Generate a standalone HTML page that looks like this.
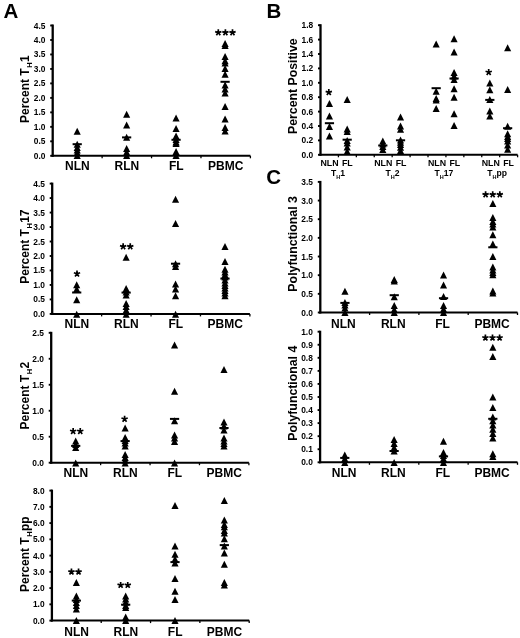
<!DOCTYPE html>
<html><head><meta charset="utf-8"><style>
html,body{margin:0;padding:0;background:#fff;}
svg{display:block;font-family:"Liberation Sans", sans-serif;will-change:transform;}
</style></head><body>
<svg width="520" height="638" viewBox="0 0 520 638">
<rect width="520" height="638" fill="#fff"/>
<text x="3.50" y="18.20" font-size="20.5" text-anchor="start" font-weight="bold" >A</text>
<text x="266.60" y="18.20" font-size="20.5" text-anchor="start" font-weight="bold" >B</text>
<text x="266.30" y="184.30" font-size="20.5" text-anchor="start" font-weight="bold" >C</text>
<line x1="52.70" y1="24.50" x2="52.70" y2="156.80" stroke="#000" stroke-width="2.3"/>
<line x1="51.70" y1="155.80" x2="250.40" y2="155.80" stroke="#000" stroke-width="2.0"/>
<line x1="50.20" y1="155.80" x2="52.70" y2="155.80" stroke="#000" stroke-width="1.9"/>
<text x="45.40" y="158.82" font-size="8.4" text-anchor="end" font-weight="bold" >0.0</text>
<line x1="50.20" y1="141.32" x2="52.70" y2="141.32" stroke="#000" stroke-width="1.9"/>
<text x="45.40" y="144.35" font-size="8.4" text-anchor="end" font-weight="bold" >0.5</text>
<line x1="50.20" y1="126.84" x2="52.70" y2="126.84" stroke="#000" stroke-width="1.9"/>
<text x="45.40" y="129.87" font-size="8.4" text-anchor="end" font-weight="bold" >1.0</text>
<line x1="50.20" y1="112.37" x2="52.70" y2="112.37" stroke="#000" stroke-width="1.9"/>
<text x="45.40" y="115.39" font-size="8.4" text-anchor="end" font-weight="bold" >1.5</text>
<line x1="50.20" y1="97.89" x2="52.70" y2="97.89" stroke="#000" stroke-width="1.9"/>
<text x="45.40" y="100.91" font-size="8.4" text-anchor="end" font-weight="bold" >2.0</text>
<line x1="50.20" y1="83.41" x2="52.70" y2="83.41" stroke="#000" stroke-width="1.9"/>
<text x="45.40" y="86.44" font-size="8.4" text-anchor="end" font-weight="bold" >2.5</text>
<line x1="50.20" y1="68.93" x2="52.70" y2="68.93" stroke="#000" stroke-width="1.9"/>
<text x="45.40" y="71.96" font-size="8.4" text-anchor="end" font-weight="bold" >3.0</text>
<line x1="50.20" y1="54.46" x2="52.70" y2="54.46" stroke="#000" stroke-width="1.9"/>
<text x="45.40" y="57.48" font-size="8.4" text-anchor="end" font-weight="bold" >3.5</text>
<line x1="50.20" y1="39.98" x2="52.70" y2="39.98" stroke="#000" stroke-width="1.9"/>
<text x="45.40" y="43.00" font-size="8.4" text-anchor="end" font-weight="bold" >4.0</text>
<line x1="50.20" y1="25.50" x2="52.70" y2="25.50" stroke="#000" stroke-width="1.9"/>
<text x="45.40" y="28.52" font-size="8.4" text-anchor="end" font-weight="bold" >4.5</text>
<line x1="102.12" y1="155.80" x2="102.12" y2="158.30" stroke="#000" stroke-width="1.3"/>
<line x1="151.55" y1="155.80" x2="151.55" y2="158.30" stroke="#000" stroke-width="1.3"/>
<line x1="200.97" y1="155.80" x2="200.97" y2="158.30" stroke="#000" stroke-width="1.3"/>
<line x1="250.40" y1="155.80" x2="250.40" y2="158.30" stroke="#000" stroke-width="1.3"/>
<text x="77.41" y="170.00" font-size="12" text-anchor="middle" font-weight="bold" >NLN</text>
<text x="126.84" y="170.00" font-size="12" text-anchor="middle" font-weight="bold" >RLN</text>
<text x="176.26" y="170.00" font-size="12" text-anchor="middle" font-weight="bold" >FL</text>
<text x="225.69" y="170.00" font-size="12" text-anchor="middle" font-weight="bold" >PBMC</text>
<text transform="translate(29.10,123.00) rotate(-90)" font-size="12" font-weight="bold">Percent T<tspan font-size="7.6" dx="0.5" dy="2.6">H</tspan><tspan dx="0.3" dy="-2.6">1</tspan></text>
<path d="M77.21 127.85L80.76 134.85L73.66 134.85Z"/>
<path d="M77.21 140.80L80.76 147.80L73.66 147.80Z"/>
<path d="M77.21 144.00L80.76 151.00L73.66 151.00Z"/>
<path d="M77.21 146.50L80.76 153.50L73.66 153.50Z"/>
<path d="M77.21 149.00L80.76 156.00L73.66 156.00Z"/>
<path d="M77.21 152.00L80.76 159.00L73.66 159.00Z"/>
<rect x="72.61" y="143.20" width="9.20" height="2.00"/>
<path d="M126.64 110.70L130.19 117.70L123.09 117.70Z"/>
<path d="M126.64 121.50L130.19 128.50L123.09 128.50Z"/>
<path d="M126.64 133.80L130.19 140.80L123.09 140.80Z"/>
<path d="M126.64 145.00L130.19 152.00L123.09 152.00Z"/>
<path d="M126.64 148.50L130.19 155.50L123.09 155.50Z"/>
<path d="M126.64 152.00L130.19 159.00L123.09 159.00Z"/>
<rect x="122.04" y="136.40" width="9.20" height="2.00"/>
<path d="M176.06 114.50L179.61 121.50L172.51 121.50Z"/>
<path d="M176.06 124.90L179.61 131.90L172.51 131.90Z"/>
<path d="M176.06 132.50L179.61 139.50L172.51 139.50Z"/>
<path d="M176.06 136.00L179.61 143.00L172.51 143.00Z"/>
<path d="M176.06 138.50L179.61 145.50L172.51 145.50Z"/>
<path d="M176.06 140.00L179.61 147.00L172.51 147.00Z"/>
<path d="M176.06 148.00L179.61 155.00L172.51 155.00Z"/>
<path d="M176.06 152.00L179.61 159.00L172.51 159.00Z"/>
<rect x="171.46" y="138.80" width="9.20" height="2.00"/>
<path d="M225.09 40.00L228.64 47.00L221.54 47.00Z"/>
<path d="M225.09 42.00L228.64 49.00L221.54 49.00Z"/>
<path d="M225.09 52.90L228.64 59.90L221.54 59.90Z"/>
<path d="M225.09 57.30L228.64 64.30L221.54 64.30Z"/>
<path d="M225.09 59.50L228.64 66.50L221.54 66.50Z"/>
<path d="M225.09 65.10L228.64 72.10L221.54 72.10Z"/>
<path d="M225.09 70.70L228.64 77.70L221.54 77.70Z"/>
<path d="M225.09 81.50L228.64 88.50L221.54 88.50Z"/>
<path d="M225.09 85.50L228.64 92.50L221.54 92.50Z"/>
<path d="M225.09 89.50L228.64 96.50L221.54 96.50Z"/>
<path d="M225.09 102.90L228.64 109.90L221.54 109.90Z"/>
<path d="M225.09 115.40L228.64 122.40L221.54 122.40Z"/>
<path d="M225.09 124.10L228.64 131.10L221.54 131.10Z"/>
<path d="M225.09 127.50L228.64 134.50L221.54 134.50Z"/>
<rect x="220.49" y="80.80" width="9.20" height="2.00"/>
<path d="M218.30 32.60L218.30 29.30M218.30 32.60L221.44 31.58M218.30 32.60L220.24 35.27M218.30 32.60L216.36 35.27M218.30 32.60L215.16 31.58" stroke="#000" stroke-width="1.7" stroke-linecap="butt" fill="none"/>
<path d="M225.40 32.60L225.40 29.30M225.40 32.60L228.54 31.58M225.40 32.60L227.34 35.27M225.40 32.60L223.46 35.27M225.40 32.60L222.26 31.58" stroke="#000" stroke-width="1.7" stroke-linecap="butt" fill="none"/>
<path d="M232.50 32.60L232.50 29.30M232.50 32.60L235.64 31.58M232.50 32.60L234.44 35.27M232.50 32.60L230.56 35.27M232.50 32.60L229.36 31.58" stroke="#000" stroke-width="1.7" stroke-linecap="butt" fill="none"/>
<line x1="52.20" y1="182.60" x2="52.20" y2="314.90" stroke="#000" stroke-width="2.3"/>
<line x1="51.20" y1="313.90" x2="249.90" y2="313.90" stroke="#000" stroke-width="2.0"/>
<line x1="49.70" y1="313.90" x2="52.20" y2="313.90" stroke="#000" stroke-width="1.9"/>
<text x="44.90" y="316.92" font-size="8.4" text-anchor="end" font-weight="bold" >0.0</text>
<line x1="49.70" y1="299.42" x2="52.20" y2="299.42" stroke="#000" stroke-width="1.9"/>
<text x="44.90" y="302.45" font-size="8.4" text-anchor="end" font-weight="bold" >0.5</text>
<line x1="49.70" y1="284.94" x2="52.20" y2="284.94" stroke="#000" stroke-width="1.9"/>
<text x="44.90" y="287.97" font-size="8.4" text-anchor="end" font-weight="bold" >1.0</text>
<line x1="49.70" y1="270.47" x2="52.20" y2="270.47" stroke="#000" stroke-width="1.9"/>
<text x="44.90" y="273.49" font-size="8.4" text-anchor="end" font-weight="bold" >1.5</text>
<line x1="49.70" y1="255.99" x2="52.20" y2="255.99" stroke="#000" stroke-width="1.9"/>
<text x="44.90" y="259.01" font-size="8.4" text-anchor="end" font-weight="bold" >2.0</text>
<line x1="49.70" y1="241.51" x2="52.20" y2="241.51" stroke="#000" stroke-width="1.9"/>
<text x="44.90" y="244.54" font-size="8.4" text-anchor="end" font-weight="bold" >2.5</text>
<line x1="49.70" y1="227.03" x2="52.20" y2="227.03" stroke="#000" stroke-width="1.9"/>
<text x="44.90" y="230.06" font-size="8.4" text-anchor="end" font-weight="bold" >3.0</text>
<line x1="49.70" y1="212.56" x2="52.20" y2="212.56" stroke="#000" stroke-width="1.9"/>
<text x="44.90" y="215.58" font-size="8.4" text-anchor="end" font-weight="bold" >3.5</text>
<line x1="49.70" y1="198.08" x2="52.20" y2="198.08" stroke="#000" stroke-width="1.9"/>
<text x="44.90" y="201.10" font-size="8.4" text-anchor="end" font-weight="bold" >4.0</text>
<line x1="49.70" y1="183.60" x2="52.20" y2="183.60" stroke="#000" stroke-width="1.9"/>
<text x="44.90" y="186.62" font-size="8.4" text-anchor="end" font-weight="bold" >4.5</text>
<line x1="101.62" y1="313.90" x2="101.62" y2="316.40" stroke="#000" stroke-width="1.3"/>
<line x1="151.05" y1="313.90" x2="151.05" y2="316.40" stroke="#000" stroke-width="1.3"/>
<line x1="200.47" y1="313.90" x2="200.47" y2="316.40" stroke="#000" stroke-width="1.3"/>
<line x1="249.90" y1="313.90" x2="249.90" y2="316.40" stroke="#000" stroke-width="1.3"/>
<text x="76.91" y="328.30" font-size="12" text-anchor="middle" font-weight="bold" >NLN</text>
<text x="126.34" y="328.30" font-size="12" text-anchor="middle" font-weight="bold" >RLN</text>
<text x="175.76" y="328.30" font-size="12" text-anchor="middle" font-weight="bold" >FL</text>
<text x="225.19" y="328.30" font-size="12" text-anchor="middle" font-weight="bold" >PBMC</text>
<text transform="translate(29.10,283.80) rotate(-90)" font-size="12" font-weight="bold">Percent T<tspan font-size="7.6" dx="0.5" dy="2.6">H</tspan><tspan dx="0.3" dy="-2.6">17</tspan></text>
<path d="M76.71 281.30L80.26 288.30L73.16 288.30Z"/>
<path d="M76.71 285.50L80.26 292.50L73.16 292.50Z"/>
<path d="M76.71 296.30L80.26 303.30L73.16 303.30Z"/>
<path d="M76.71 310.80L80.26 317.80L73.16 317.80Z"/>
<rect x="72.11" y="291.50" width="9.20" height="2.00"/>
<path d="M126.14 253.80L129.69 260.80L122.59 260.80Z"/>
<path d="M126.14 285.00L129.69 292.00L122.59 292.00Z"/>
<path d="M126.14 288.50L129.69 295.50L122.59 295.50Z"/>
<path d="M126.14 291.50L129.69 298.50L122.59 298.50Z"/>
<path d="M126.14 300.00L129.69 307.00L122.59 307.00Z"/>
<path d="M126.14 303.00L129.69 310.00L122.59 310.00Z"/>
<path d="M126.14 306.50L129.69 313.50L122.59 313.50Z"/>
<path d="M126.14 310.80L129.69 317.80L122.59 317.80Z"/>
<rect x="121.54" y="291.60" width="9.20" height="2.00"/>
<path d="M175.56 195.80L179.11 202.80L172.01 202.80Z"/>
<path d="M175.56 220.00L179.11 227.00L172.01 227.00Z"/>
<path d="M175.56 260.30L179.11 267.30L172.01 267.30Z"/>
<path d="M175.56 262.90L179.11 269.90L172.01 269.90Z"/>
<path d="M175.56 280.50L179.11 287.50L172.01 287.50Z"/>
<path d="M175.56 285.50L179.11 292.50L172.01 292.50Z"/>
<path d="M175.56 292.30L179.11 299.30L172.01 299.30Z"/>
<path d="M175.56 310.80L179.11 317.80L172.01 317.80Z"/>
<rect x="170.96" y="262.70" width="9.20" height="2.00"/>
<path d="M224.99 243.00L228.54 250.00L221.44 250.00Z"/>
<path d="M224.99 258.00L228.54 265.00L221.44 265.00Z"/>
<path d="M224.99 265.80L228.54 272.80L221.44 272.80Z"/>
<path d="M224.99 268.50L228.54 275.50L221.44 275.50Z"/>
<path d="M224.99 271.00L228.54 278.00L221.44 278.00Z"/>
<path d="M224.99 273.50L228.54 280.50L221.44 280.50Z"/>
<path d="M224.99 276.50L228.54 283.50L221.44 283.50Z"/>
<path d="M224.99 279.50L228.54 286.50L221.44 286.50Z"/>
<path d="M224.99 282.00L228.54 289.00L221.44 289.00Z"/>
<path d="M224.99 284.50L228.54 291.50L221.44 291.50Z"/>
<path d="M224.99 287.00L228.54 294.00L221.44 294.00Z"/>
<path d="M224.99 289.50L228.54 296.50L221.44 296.50Z"/>
<path d="M224.99 292.30L228.54 299.30L221.44 299.30Z"/>
<rect x="220.39" y="277.60" width="9.20" height="2.00"/>
<path d="M77.00 273.80L77.00 270.50M77.00 273.80L80.14 272.78M77.00 273.80L78.94 276.47M77.00 273.80L75.06 276.47M77.00 273.80L73.86 272.78" stroke="#000" stroke-width="1.7" stroke-linecap="butt" fill="none"/>
<path d="M123.15 246.60L123.15 243.30M123.15 246.60L126.29 245.58M123.15 246.60L125.09 249.27M123.15 246.60L121.21 249.27M123.15 246.60L120.01 245.58" stroke="#000" stroke-width="1.7" stroke-linecap="butt" fill="none"/>
<path d="M130.25 246.60L130.25 243.30M130.25 246.60L133.39 245.58M130.25 246.60L132.19 249.27M130.25 246.60L128.31 249.27M130.25 246.60L127.11 245.58" stroke="#000" stroke-width="1.7" stroke-linecap="butt" fill="none"/>
<line x1="51.20" y1="331.80" x2="51.20" y2="463.70" stroke="#000" stroke-width="2.3"/>
<line x1="50.20" y1="462.70" x2="248.90" y2="462.70" stroke="#000" stroke-width="2.0"/>
<line x1="48.70" y1="462.70" x2="51.20" y2="462.70" stroke="#000" stroke-width="1.9"/>
<text x="43.90" y="465.72" font-size="8.4" text-anchor="end" font-weight="bold" >0.0</text>
<line x1="48.70" y1="436.72" x2="51.20" y2="436.72" stroke="#000" stroke-width="1.9"/>
<text x="43.90" y="439.74" font-size="8.4" text-anchor="end" font-weight="bold" >0.5</text>
<line x1="48.70" y1="410.74" x2="51.20" y2="410.74" stroke="#000" stroke-width="1.9"/>
<text x="43.90" y="413.76" font-size="8.4" text-anchor="end" font-weight="bold" >1.0</text>
<line x1="48.70" y1="384.76" x2="51.20" y2="384.76" stroke="#000" stroke-width="1.9"/>
<text x="43.90" y="387.78" font-size="8.4" text-anchor="end" font-weight="bold" >1.5</text>
<line x1="48.70" y1="358.78" x2="51.20" y2="358.78" stroke="#000" stroke-width="1.9"/>
<text x="43.90" y="361.80" font-size="8.4" text-anchor="end" font-weight="bold" >2.0</text>
<line x1="48.70" y1="332.80" x2="51.20" y2="332.80" stroke="#000" stroke-width="1.9"/>
<text x="43.90" y="335.82" font-size="8.4" text-anchor="end" font-weight="bold" >2.5</text>
<line x1="100.62" y1="462.70" x2="100.62" y2="465.20" stroke="#000" stroke-width="1.3"/>
<line x1="150.05" y1="462.70" x2="150.05" y2="465.20" stroke="#000" stroke-width="1.3"/>
<line x1="199.47" y1="462.70" x2="199.47" y2="465.20" stroke="#000" stroke-width="1.3"/>
<line x1="248.90" y1="462.70" x2="248.90" y2="465.20" stroke="#000" stroke-width="1.3"/>
<text x="75.91" y="477.00" font-size="12" text-anchor="middle" font-weight="bold" >NLN</text>
<text x="125.34" y="477.00" font-size="12" text-anchor="middle" font-weight="bold" >RLN</text>
<text x="174.76" y="477.00" font-size="12" text-anchor="middle" font-weight="bold" >FL</text>
<text x="224.19" y="477.00" font-size="12" text-anchor="middle" font-weight="bold" >PBMC</text>
<text transform="translate(29.10,429.50) rotate(-90)" font-size="12" font-weight="bold">Percent T<tspan font-size="7.6" dx="0.5" dy="2.6">H</tspan><tspan dx="0.3" dy="-2.6">2</tspan></text>
<path d="M75.71 437.50L79.26 444.50L72.16 444.50Z"/>
<path d="M75.71 441.00L79.26 448.00L72.16 448.00Z"/>
<path d="M75.71 444.00L79.26 451.00L72.16 451.00Z"/>
<path d="M75.71 459.50L79.26 466.50L72.16 466.50Z"/>
<rect x="71.11" y="444.90" width="9.20" height="2.00"/>
<path d="M125.14 424.50L128.69 431.50L121.59 431.50Z"/>
<path d="M125.14 434.00L128.69 441.00L121.59 441.00Z"/>
<path d="M125.14 437.00L128.69 444.00L121.59 444.00Z"/>
<path d="M125.14 439.50L128.69 446.50L121.59 446.50Z"/>
<path d="M125.14 442.50L128.69 449.50L121.59 449.50Z"/>
<path d="M125.14 451.00L128.69 458.00L121.59 458.00Z"/>
<path d="M125.14 454.00L128.69 461.00L121.59 461.00Z"/>
<path d="M125.14 456.50L128.69 463.50L121.59 463.50Z"/>
<path d="M125.14 459.50L128.69 466.50L121.59 466.50Z"/>
<rect x="120.54" y="440.10" width="9.20" height="2.00"/>
<path d="M174.56 341.50L178.11 348.50L171.01 348.50Z"/>
<path d="M174.56 387.70L178.11 394.70L171.01 394.70Z"/>
<path d="M174.56 417.30L178.11 424.30L171.01 424.30Z"/>
<path d="M174.56 431.50L178.11 438.50L171.01 438.50Z"/>
<path d="M174.56 434.50L178.11 441.50L171.01 441.50Z"/>
<path d="M174.56 438.00L178.11 445.00L171.01 445.00Z"/>
<path d="M174.56 459.50L178.11 466.50L171.01 466.50Z"/>
<rect x="169.96" y="417.90" width="9.20" height="2.00"/>
<path d="M223.99 366.00L227.54 373.00L220.44 373.00Z"/>
<path d="M223.99 418.50L227.54 425.50L220.44 425.50Z"/>
<path d="M223.99 422.50L227.54 429.50L220.44 429.50Z"/>
<path d="M223.99 426.50L227.54 433.50L220.44 433.50Z"/>
<path d="M223.99 434.50L227.54 441.50L220.44 441.50Z"/>
<path d="M223.99 437.50L227.54 444.50L220.44 444.50Z"/>
<path d="M223.99 440.00L227.54 447.00L220.44 447.00Z"/>
<path d="M223.99 442.50L227.54 449.50L220.44 449.50Z"/>
<rect x="219.39" y="427.00" width="9.20" height="2.00"/>
<path d="M73.15 431.30L73.15 428.00M73.15 431.30L76.29 430.28M73.15 431.30L75.09 433.97M73.15 431.30L71.21 433.97M73.15 431.30L70.01 430.28" stroke="#000" stroke-width="1.7" stroke-linecap="butt" fill="none"/>
<path d="M80.25 431.30L80.25 428.00M80.25 431.30L83.39 430.28M80.25 431.30L82.19 433.97M80.25 431.30L78.31 433.97M80.25 431.30L77.11 430.28" stroke="#000" stroke-width="1.7" stroke-linecap="butt" fill="none"/>
<path d="M124.60 419.00L124.60 415.70M124.60 419.00L127.74 417.98M124.60 419.00L126.54 421.67M124.60 419.00L122.66 421.67M124.60 419.00L121.46 417.98" stroke="#000" stroke-width="1.7" stroke-linecap="butt" fill="none"/>
<line x1="51.90" y1="489.60" x2="51.90" y2="621.60" stroke="#000" stroke-width="2.3"/>
<line x1="50.90" y1="620.60" x2="249.20" y2="620.60" stroke="#000" stroke-width="2.0"/>
<line x1="49.40" y1="620.60" x2="51.90" y2="620.60" stroke="#000" stroke-width="1.9"/>
<text x="44.60" y="623.62" font-size="8.4" text-anchor="end" font-weight="bold" >0.0</text>
<line x1="49.40" y1="604.35" x2="51.90" y2="604.35" stroke="#000" stroke-width="1.9"/>
<text x="44.60" y="607.37" font-size="8.4" text-anchor="end" font-weight="bold" >1.0</text>
<line x1="49.40" y1="588.10" x2="51.90" y2="588.10" stroke="#000" stroke-width="1.9"/>
<text x="44.60" y="591.12" font-size="8.4" text-anchor="end" font-weight="bold" >2.0</text>
<line x1="49.40" y1="571.85" x2="51.90" y2="571.85" stroke="#000" stroke-width="1.9"/>
<text x="44.60" y="574.87" font-size="8.4" text-anchor="end" font-weight="bold" >3.0</text>
<line x1="49.40" y1="555.60" x2="51.90" y2="555.60" stroke="#000" stroke-width="1.9"/>
<text x="44.60" y="558.62" font-size="8.4" text-anchor="end" font-weight="bold" >4.0</text>
<line x1="49.40" y1="539.35" x2="51.90" y2="539.35" stroke="#000" stroke-width="1.9"/>
<text x="44.60" y="542.37" font-size="8.4" text-anchor="end" font-weight="bold" >5.0</text>
<line x1="49.40" y1="523.10" x2="51.90" y2="523.10" stroke="#000" stroke-width="1.9"/>
<text x="44.60" y="526.12" font-size="8.4" text-anchor="end" font-weight="bold" >6.0</text>
<line x1="49.40" y1="506.85" x2="51.90" y2="506.85" stroke="#000" stroke-width="1.9"/>
<text x="44.60" y="509.87" font-size="8.4" text-anchor="end" font-weight="bold" >7.0</text>
<line x1="49.40" y1="490.60" x2="51.90" y2="490.60" stroke="#000" stroke-width="1.9"/>
<text x="44.60" y="493.62" font-size="8.4" text-anchor="end" font-weight="bold" >8.0</text>
<line x1="101.22" y1="620.60" x2="101.22" y2="623.10" stroke="#000" stroke-width="1.3"/>
<line x1="150.55" y1="620.60" x2="150.55" y2="623.10" stroke="#000" stroke-width="1.3"/>
<line x1="199.88" y1="620.60" x2="199.88" y2="623.10" stroke="#000" stroke-width="1.3"/>
<line x1="249.20" y1="620.60" x2="249.20" y2="623.10" stroke="#000" stroke-width="1.3"/>
<text x="76.56" y="636.00" font-size="12" text-anchor="middle" font-weight="bold" >NLN</text>
<text x="125.89" y="636.00" font-size="12" text-anchor="middle" font-weight="bold" >RLN</text>
<text x="175.21" y="636.00" font-size="12" text-anchor="middle" font-weight="bold" >FL</text>
<text x="224.54" y="636.00" font-size="12" text-anchor="middle" font-weight="bold" >PBMC</text>
<text transform="translate(29.10,592.00) rotate(-90)" font-size="12" font-weight="bold">Percent T<tspan font-size="7.6" dx="0.5" dy="2.6">H</tspan><tspan dx="0.3" dy="-2.6">pp</tspan></text>
<path d="M76.36 579.10L79.91 586.10L72.81 586.10Z"/>
<path d="M76.36 592.50L79.91 599.50L72.81 599.50Z"/>
<path d="M76.36 596.00L79.91 603.00L72.81 603.00Z"/>
<path d="M76.36 599.00L79.91 606.00L72.81 606.00Z"/>
<path d="M76.36 602.00L79.91 609.00L72.81 609.00Z"/>
<path d="M76.36 605.50L79.91 612.50L72.81 612.50Z"/>
<path d="M76.36 617.10L79.91 624.10L72.81 624.10Z"/>
<rect x="71.76" y="599.60" width="9.20" height="2.00"/>
<path d="M125.69 592.50L129.24 599.50L122.14 599.50Z"/>
<path d="M125.69 595.50L129.24 602.50L122.14 602.50Z"/>
<path d="M125.69 598.50L129.24 605.50L122.14 605.50Z"/>
<path d="M125.69 602.00L129.24 609.00L122.14 609.00Z"/>
<path d="M125.69 604.00L129.24 611.00L122.14 611.00Z"/>
<path d="M125.69 613.50L129.24 620.50L122.14 620.50Z"/>
<path d="M125.69 617.10L129.24 624.10L122.14 624.10Z"/>
<rect x="121.09" y="603.70" width="9.20" height="2.00"/>
<path d="M175.01 501.90L178.56 508.90L171.46 508.90Z"/>
<path d="M175.01 542.50L178.56 549.50L171.46 549.50Z"/>
<path d="M175.01 550.80L178.56 557.80L171.46 557.80Z"/>
<path d="M175.01 555.50L178.56 562.50L171.46 562.50Z"/>
<path d="M175.01 559.50L178.56 566.50L171.46 566.50Z"/>
<path d="M175.01 575.00L178.56 582.00L171.46 582.00Z"/>
<path d="M175.01 587.70L178.56 594.70L171.46 594.70Z"/>
<path d="M175.01 596.00L178.56 603.00L171.46 603.00Z"/>
<path d="M175.01 617.10L178.56 624.10L171.46 624.10Z"/>
<rect x="170.41" y="561.10" width="9.20" height="2.00"/>
<path d="M224.34 496.90L227.89 503.90L220.79 503.90Z"/>
<path d="M224.34 516.50L227.89 523.50L220.79 523.50Z"/>
<path d="M224.34 521.00L227.89 528.00L220.79 528.00Z"/>
<path d="M224.34 523.20L227.89 530.20L220.79 530.20Z"/>
<path d="M224.34 527.00L227.89 534.00L220.79 534.00Z"/>
<path d="M224.34 529.50L227.89 536.50L220.79 536.50Z"/>
<path d="M224.34 535.20L227.89 542.20L220.79 542.20Z"/>
<path d="M224.34 542.40L227.89 549.40L220.79 549.40Z"/>
<path d="M224.34 549.50L227.89 556.50L220.79 556.50Z"/>
<path d="M224.34 560.80L227.89 567.80L220.79 567.80Z"/>
<path d="M224.34 579.00L227.89 586.00L220.79 586.00Z"/>
<path d="M224.34 581.50L227.89 588.50L220.79 588.50Z"/>
<rect x="219.74" y="544.10" width="9.20" height="2.00"/>
<path d="M71.45 571.90L71.45 568.60M71.45 571.90L74.59 570.88M71.45 571.90L73.39 574.57M71.45 571.90L69.51 574.57M71.45 571.90L68.31 570.88" stroke="#000" stroke-width="1.7" stroke-linecap="butt" fill="none"/>
<path d="M78.55 571.90L78.55 568.60M78.55 571.90L81.69 570.88M78.55 571.90L80.49 574.57M78.55 571.90L76.61 574.57M78.55 571.90L75.41 570.88" stroke="#000" stroke-width="1.7" stroke-linecap="butt" fill="none"/>
<path d="M120.65 585.20L120.65 581.90M120.65 585.20L123.79 584.18M120.65 585.20L122.59 587.87M120.65 585.20L118.71 587.87M120.65 585.20L117.51 584.18" stroke="#000" stroke-width="1.7" stroke-linecap="butt" fill="none"/>
<path d="M127.75 585.20L127.75 581.90M127.75 585.20L130.89 584.18M127.75 585.20L129.69 587.87M127.75 585.20L125.81 587.87M127.75 585.20L124.61 584.18" stroke="#000" stroke-width="1.7" stroke-linecap="butt" fill="none"/>
<line x1="320.50" y1="24.20" x2="320.50" y2="155.80" stroke="#000" stroke-width="2.3"/>
<line x1="319.50" y1="154.80" x2="517.60" y2="154.80" stroke="#000" stroke-width="2.0"/>
<line x1="318.00" y1="154.80" x2="320.50" y2="154.80" stroke="#000" stroke-width="1.9"/>
<text x="313.20" y="157.82" font-size="8.4" text-anchor="end" font-weight="bold" >0.0</text>
<line x1="318.00" y1="140.40" x2="320.50" y2="140.40" stroke="#000" stroke-width="1.9"/>
<text x="313.20" y="143.42" font-size="8.4" text-anchor="end" font-weight="bold" >0.2</text>
<line x1="318.00" y1="126.00" x2="320.50" y2="126.00" stroke="#000" stroke-width="1.9"/>
<text x="313.20" y="129.02" font-size="8.4" text-anchor="end" font-weight="bold" >0.4</text>
<line x1="318.00" y1="111.60" x2="320.50" y2="111.60" stroke="#000" stroke-width="1.9"/>
<text x="313.20" y="114.62" font-size="8.4" text-anchor="end" font-weight="bold" >0.6</text>
<line x1="318.00" y1="97.20" x2="320.50" y2="97.20" stroke="#000" stroke-width="1.9"/>
<text x="313.20" y="100.22" font-size="8.4" text-anchor="end" font-weight="bold" >0.8</text>
<line x1="318.00" y1="82.80" x2="320.50" y2="82.80" stroke="#000" stroke-width="1.9"/>
<text x="313.20" y="85.82" font-size="8.4" text-anchor="end" font-weight="bold" >1.0</text>
<line x1="318.00" y1="68.40" x2="320.50" y2="68.40" stroke="#000" stroke-width="1.9"/>
<text x="313.20" y="71.42" font-size="8.4" text-anchor="end" font-weight="bold" >1.2</text>
<line x1="318.00" y1="54.00" x2="320.50" y2="54.00" stroke="#000" stroke-width="1.9"/>
<text x="313.20" y="57.02" font-size="8.4" text-anchor="end" font-weight="bold" >1.4</text>
<line x1="318.00" y1="39.60" x2="320.50" y2="39.60" stroke="#000" stroke-width="1.9"/>
<text x="313.20" y="42.62" font-size="8.4" text-anchor="end" font-weight="bold" >1.6</text>
<line x1="318.00" y1="25.20" x2="320.50" y2="25.20" stroke="#000" stroke-width="1.9"/>
<text x="313.20" y="28.22" font-size="8.4" text-anchor="end" font-weight="bold" >1.8</text>
<line x1="338.42" y1="154.80" x2="338.42" y2="157.30" stroke="#000" stroke-width="1.3"/>
<line x1="356.34" y1="154.80" x2="356.34" y2="157.30" stroke="#000" stroke-width="1.3"/>
<line x1="374.25" y1="154.80" x2="374.25" y2="157.30" stroke="#000" stroke-width="1.3"/>
<line x1="392.17" y1="154.80" x2="392.17" y2="157.30" stroke="#000" stroke-width="1.3"/>
<line x1="410.09" y1="154.80" x2="410.09" y2="157.30" stroke="#000" stroke-width="1.3"/>
<line x1="428.01" y1="154.80" x2="428.01" y2="157.30" stroke="#000" stroke-width="1.3"/>
<line x1="445.93" y1="154.80" x2="445.93" y2="157.30" stroke="#000" stroke-width="1.3"/>
<line x1="463.85" y1="154.80" x2="463.85" y2="157.30" stroke="#000" stroke-width="1.3"/>
<line x1="481.76" y1="154.80" x2="481.76" y2="157.30" stroke="#000" stroke-width="1.3"/>
<line x1="499.68" y1="154.80" x2="499.68" y2="157.30" stroke="#000" stroke-width="1.3"/>
<line x1="517.60" y1="154.80" x2="517.60" y2="157.30" stroke="#000" stroke-width="1.3"/>
<text x="329.46" y="166.00" font-size="8.8" text-anchor="middle" font-weight="bold" >NLN</text>
<text x="347.38" y="166.00" font-size="8.8" text-anchor="middle" font-weight="bold" >FL</text>
<text x="383.21" y="166.00" font-size="8.8" text-anchor="middle" font-weight="bold" >NLN</text>
<text x="401.13" y="166.00" font-size="8.8" text-anchor="middle" font-weight="bold" >FL</text>
<text x="436.97" y="166.00" font-size="8.8" text-anchor="middle" font-weight="bold" >NLN</text>
<text x="454.89" y="166.00" font-size="8.8" text-anchor="middle" font-weight="bold" >FL</text>
<text x="490.72" y="166.00" font-size="8.8" text-anchor="middle" font-weight="bold" >NLN</text>
<text x="508.64" y="166.00" font-size="8.8" text-anchor="middle" font-weight="bold" >FL</text>
<text transform="translate(297.00,134.00) rotate(-90)" font-size="12.3" font-weight="bold">Percent Positive</text>
<text x="330.90" y="176.40" font-size="8.6" font-weight="bold">T<tspan font-size="5.5" dy="2.6">H</tspan><tspan dy="-2.6">1</tspan></text>
<text x="385.40" y="176.40" font-size="8.6" font-weight="bold">T<tspan font-size="5.5" dy="2.6">H</tspan><tspan dy="-2.6">2</tspan></text>
<text x="434.40" y="176.40" font-size="8.6" font-weight="bold">T<tspan font-size="5.5" dy="2.6">H</tspan><tspan dy="-2.6">17</tspan></text>
<text x="487.30" y="176.40" font-size="8.6" font-weight="bold">T<tspan font-size="5.5" dy="2.6">H</tspan><tspan dy="-2.6">pp</tspan></text>
<path d="M329.46 100.00L333.01 107.00L325.91 107.00Z"/>
<path d="M329.46 112.40L333.01 119.40L325.91 119.40Z"/>
<path d="M329.46 123.00L333.01 130.00L325.91 130.00Z"/>
<path d="M329.46 132.50L333.01 139.50L325.91 139.50Z"/>
<rect x="324.86" y="122.20" width="9.20" height="2.00"/>
<path d="M347.18 95.90L350.73 102.90L343.63 102.90Z"/>
<path d="M347.18 125.40L350.73 132.40L343.63 132.40Z"/>
<path d="M347.18 128.00L350.73 135.00L343.63 135.00Z"/>
<path d="M347.18 136.90L350.73 143.90L343.63 143.90Z"/>
<path d="M347.18 139.50L350.73 146.50L343.63 146.50Z"/>
<path d="M347.18 143.50L350.73 150.50L343.63 150.50Z"/>
<path d="M347.18 147.80L350.73 154.80L343.63 154.80Z"/>
<rect x="342.58" y="138.70" width="9.20" height="2.00"/>
<path d="M382.81 137.50L386.36 144.50L379.26 144.50Z"/>
<path d="M382.81 140.50L386.36 147.50L379.26 147.50Z"/>
<path d="M382.81 143.00L386.36 150.00L379.26 150.00Z"/>
<path d="M382.81 146.00L386.36 153.00L379.26 153.00Z"/>
<rect x="378.21" y="144.50" width="9.20" height="2.00"/>
<path d="M400.53 113.50L404.08 120.50L396.98 120.50Z"/>
<path d="M400.53 122.50L404.08 129.50L396.98 129.50Z"/>
<path d="M400.53 125.70L404.08 132.70L396.98 132.70Z"/>
<path d="M400.53 136.40L404.08 143.40L396.98 143.40Z"/>
<path d="M400.53 138.70L404.08 145.70L396.98 145.70Z"/>
<path d="M400.53 141.00L404.08 148.00L396.98 148.00Z"/>
<path d="M400.53 143.80L404.08 150.80L396.98 150.80Z"/>
<path d="M400.53 147.10L404.08 154.10L396.98 154.10Z"/>
<rect x="395.93" y="139.30" width="9.20" height="2.00"/>
<path d="M436.17 40.60L439.72 47.60L432.62 47.60Z"/>
<path d="M436.17 87.70L439.72 94.70L432.62 94.70Z"/>
<path d="M436.17 95.00L439.72 102.00L432.62 102.00Z"/>
<path d="M436.17 96.50L439.72 103.50L432.62 103.50Z"/>
<path d="M436.17 105.00L439.72 112.00L432.62 112.00Z"/>
<rect x="431.57" y="87.20" width="9.20" height="2.00"/>
<path d="M454.09 35.20L457.64 42.20L450.54 42.20Z"/>
<path d="M454.09 48.50L457.64 55.50L450.54 55.50Z"/>
<path d="M454.09 69.00L457.64 76.00L450.54 76.00Z"/>
<path d="M454.09 72.50L457.64 79.50L450.54 79.50Z"/>
<path d="M454.09 76.00L457.64 83.00L450.54 83.00Z"/>
<path d="M454.09 85.20L457.64 92.20L450.54 92.20Z"/>
<path d="M454.09 93.80L457.64 100.80L450.54 100.80Z"/>
<path d="M454.09 110.30L457.64 117.30L450.54 117.30Z"/>
<path d="M454.09 122.10L457.64 129.10L450.54 129.10Z"/>
<rect x="449.49" y="77.50" width="9.20" height="2.00"/>
<path d="M489.82 79.60L493.37 86.60L486.27 86.60Z"/>
<path d="M489.82 86.20L493.37 93.20L486.27 93.20Z"/>
<path d="M489.82 95.90L493.37 102.90L486.27 102.90Z"/>
<path d="M489.82 107.50L493.37 114.50L486.27 114.50Z"/>
<path d="M489.82 112.50L493.37 119.50L486.27 119.50Z"/>
<rect x="485.22" y="98.90" width="9.20" height="2.00"/>
<path d="M507.64 44.30L511.19 51.30L504.09 51.30Z"/>
<path d="M507.64 85.90L511.19 92.90L504.09 92.90Z"/>
<path d="M507.64 122.80L511.19 129.80L504.09 129.80Z"/>
<path d="M507.64 130.30L511.19 137.30L504.09 137.30Z"/>
<path d="M507.64 133.00L511.19 140.00L504.09 140.00Z"/>
<path d="M507.64 135.00L511.19 142.00L504.09 142.00Z"/>
<path d="M507.64 137.50L511.19 144.50L504.09 144.50Z"/>
<path d="M507.64 141.50L511.19 148.50L504.09 148.50Z"/>
<path d="M507.64 145.80L511.19 152.80L504.09 152.80Z"/>
<rect x="503.04" y="127.20" width="9.20" height="2.00"/>
<path d="M328.80 92.40L328.80 89.10M328.80 92.40L331.94 91.38M328.80 92.40L330.74 95.07M328.80 92.40L326.86 95.07M328.80 92.40L325.66 91.38" stroke="#000" stroke-width="1.7" stroke-linecap="butt" fill="none"/>
<path d="M488.70 72.30L488.70 69.00M488.70 72.30L491.84 71.28M488.70 72.30L490.64 74.97M488.70 72.30L486.76 74.97M488.70 72.30L485.56 71.28" stroke="#000" stroke-width="1.7" stroke-linecap="butt" fill="none"/>
<line x1="320.30" y1="180.90" x2="320.30" y2="313.50" stroke="#000" stroke-width="2.3"/>
<line x1="319.30" y1="312.50" x2="517.50" y2="312.50" stroke="#000" stroke-width="2.0"/>
<line x1="317.80" y1="312.50" x2="320.30" y2="312.50" stroke="#000" stroke-width="1.9"/>
<text x="313.00" y="315.52" font-size="8.4" text-anchor="end" font-weight="bold" >0.0</text>
<line x1="317.80" y1="293.84" x2="320.30" y2="293.84" stroke="#000" stroke-width="1.9"/>
<text x="313.00" y="296.87" font-size="8.4" text-anchor="end" font-weight="bold" >0.5</text>
<line x1="317.80" y1="275.19" x2="320.30" y2="275.19" stroke="#000" stroke-width="1.9"/>
<text x="313.00" y="278.21" font-size="8.4" text-anchor="end" font-weight="bold" >1.0</text>
<line x1="317.80" y1="256.53" x2="320.30" y2="256.53" stroke="#000" stroke-width="1.9"/>
<text x="313.00" y="259.55" font-size="8.4" text-anchor="end" font-weight="bold" >1.5</text>
<line x1="317.80" y1="237.87" x2="320.30" y2="237.87" stroke="#000" stroke-width="1.9"/>
<text x="313.00" y="240.90" font-size="8.4" text-anchor="end" font-weight="bold" >2.0</text>
<line x1="317.80" y1="219.21" x2="320.30" y2="219.21" stroke="#000" stroke-width="1.9"/>
<text x="313.00" y="222.24" font-size="8.4" text-anchor="end" font-weight="bold" >2.5</text>
<line x1="317.80" y1="200.56" x2="320.30" y2="200.56" stroke="#000" stroke-width="1.9"/>
<text x="313.00" y="203.58" font-size="8.4" text-anchor="end" font-weight="bold" >3.0</text>
<line x1="317.80" y1="181.90" x2="320.30" y2="181.90" stroke="#000" stroke-width="1.9"/>
<text x="313.00" y="184.92" font-size="8.4" text-anchor="end" font-weight="bold" >3.5</text>
<line x1="369.60" y1="312.50" x2="369.60" y2="315.00" stroke="#000" stroke-width="1.3"/>
<line x1="418.90" y1="312.50" x2="418.90" y2="315.00" stroke="#000" stroke-width="1.3"/>
<line x1="468.20" y1="312.50" x2="468.20" y2="315.00" stroke="#000" stroke-width="1.3"/>
<line x1="517.50" y1="312.50" x2="517.50" y2="315.00" stroke="#000" stroke-width="1.3"/>
<text x="343.45" y="327.60" font-size="12" text-anchor="middle" font-weight="bold" >NLN</text>
<text x="393.25" y="327.60" font-size="12" text-anchor="middle" font-weight="bold" >RLN</text>
<text x="442.55" y="327.60" font-size="12" text-anchor="middle" font-weight="bold" >FL</text>
<text x="492.05" y="327.60" font-size="12" text-anchor="middle" font-weight="bold" >PBMC</text>
<text transform="translate(297.00,291.70) rotate(-90)" font-size="12.4" font-weight="bold">Polyfunctional 3</text>
<path d="M344.95 287.80L348.50 294.80L341.40 294.80Z"/>
<path d="M344.95 299.00L348.50 306.00L341.40 306.00Z"/>
<path d="M344.95 301.50L348.50 308.50L341.40 308.50Z"/>
<path d="M344.95 304.50L348.50 311.50L341.40 311.50Z"/>
<path d="M344.95 309.00L348.50 316.00L341.40 316.00Z"/>
<rect x="340.35" y="301.90" width="9.20" height="2.00"/>
<path d="M394.25 276.00L397.80 283.00L390.70 283.00Z"/>
<path d="M394.25 277.50L397.80 284.50L390.70 284.50Z"/>
<path d="M394.25 293.30L397.80 300.30L390.70 300.30Z"/>
<path d="M394.25 302.00L397.80 309.00L390.70 309.00Z"/>
<path d="M394.25 306.00L397.80 313.00L390.70 313.00Z"/>
<path d="M394.25 309.00L397.80 316.00L390.70 316.00Z"/>
<rect x="389.65" y="294.20" width="9.20" height="2.00"/>
<path d="M443.55 271.60L447.10 278.60L440.00 278.60Z"/>
<path d="M443.55 281.60L447.10 288.60L440.00 288.60Z"/>
<path d="M443.55 293.10L447.10 300.10L440.00 300.10Z"/>
<path d="M443.55 302.00L447.10 309.00L440.00 309.00Z"/>
<path d="M443.55 305.50L447.10 312.50L440.00 312.50Z"/>
<path d="M443.55 309.00L447.10 316.00L440.00 316.00Z"/>
<rect x="438.95" y="297.20" width="9.20" height="2.00"/>
<path d="M492.85 200.00L496.40 207.00L489.30 207.00Z"/>
<path d="M492.85 214.00L496.40 221.00L489.30 221.00Z"/>
<path d="M492.85 218.00L496.40 225.00L489.30 225.00Z"/>
<path d="M492.85 220.50L496.40 227.50L489.30 227.50Z"/>
<path d="M492.85 223.50L496.40 230.50L489.30 230.50Z"/>
<path d="M492.85 231.30L496.40 238.30L489.30 238.30Z"/>
<path d="M492.85 240.50L496.40 247.50L489.30 247.50Z"/>
<path d="M492.85 253.00L496.40 260.00L489.30 260.00Z"/>
<path d="M492.85 263.50L496.40 270.50L489.30 270.50Z"/>
<path d="M492.85 266.50L496.40 273.50L489.30 273.50Z"/>
<path d="M492.85 269.00L496.40 276.00L489.30 276.00Z"/>
<path d="M492.85 271.30L496.40 278.30L489.30 278.30Z"/>
<path d="M492.85 287.50L496.40 294.50L489.30 294.50Z"/>
<path d="M492.85 289.50L496.40 296.50L489.30 296.50Z"/>
<rect x="488.25" y="246.30" width="9.20" height="2.00"/>
<path d="M485.60 194.60L485.60 191.30M485.60 194.60L488.74 193.58M485.60 194.60L487.54 197.27M485.60 194.60L483.66 197.27M485.60 194.60L482.46 193.58" stroke="#000" stroke-width="1.7" stroke-linecap="butt" fill="none"/>
<path d="M492.70 194.60L492.70 191.30M492.70 194.60L495.84 193.58M492.70 194.60L494.64 197.27M492.70 194.60L490.76 197.27M492.70 194.60L489.56 193.58" stroke="#000" stroke-width="1.7" stroke-linecap="butt" fill="none"/>
<path d="M499.80 194.60L499.80 191.30M499.80 194.60L502.94 193.58M499.80 194.60L501.74 197.27M499.80 194.60L497.86 197.27M499.80 194.60L496.66 193.58" stroke="#000" stroke-width="1.7" stroke-linecap="butt" fill="none"/>
<line x1="320.10" y1="330.70" x2="320.10" y2="463.30" stroke="#000" stroke-width="2.3"/>
<line x1="319.10" y1="462.30" x2="517.50" y2="462.30" stroke="#000" stroke-width="2.0"/>
<line x1="317.60" y1="462.30" x2="320.10" y2="462.30" stroke="#000" stroke-width="1.9"/>
<text x="312.80" y="465.32" font-size="8.4" text-anchor="end" font-weight="bold" >0.0</text>
<line x1="317.60" y1="449.24" x2="320.10" y2="449.24" stroke="#000" stroke-width="1.9"/>
<text x="312.80" y="452.26" font-size="8.4" text-anchor="end" font-weight="bold" >0.1</text>
<line x1="317.60" y1="436.18" x2="320.10" y2="436.18" stroke="#000" stroke-width="1.9"/>
<text x="312.80" y="439.20" font-size="8.4" text-anchor="end" font-weight="bold" >0.2</text>
<line x1="317.60" y1="423.12" x2="320.10" y2="423.12" stroke="#000" stroke-width="1.9"/>
<text x="312.80" y="426.14" font-size="8.4" text-anchor="end" font-weight="bold" >0.3</text>
<line x1="317.60" y1="410.06" x2="320.10" y2="410.06" stroke="#000" stroke-width="1.9"/>
<text x="312.80" y="413.08" font-size="8.4" text-anchor="end" font-weight="bold" >0.4</text>
<line x1="317.60" y1="397.00" x2="320.10" y2="397.00" stroke="#000" stroke-width="1.9"/>
<text x="312.80" y="400.02" font-size="8.4" text-anchor="end" font-weight="bold" >0.5</text>
<line x1="317.60" y1="383.94" x2="320.10" y2="383.94" stroke="#000" stroke-width="1.9"/>
<text x="312.80" y="386.96" font-size="8.4" text-anchor="end" font-weight="bold" >0.6</text>
<line x1="317.60" y1="370.88" x2="320.10" y2="370.88" stroke="#000" stroke-width="1.9"/>
<text x="312.80" y="373.90" font-size="8.4" text-anchor="end" font-weight="bold" >0.7</text>
<line x1="317.60" y1="357.82" x2="320.10" y2="357.82" stroke="#000" stroke-width="1.9"/>
<text x="312.80" y="360.84" font-size="8.4" text-anchor="end" font-weight="bold" >0.8</text>
<line x1="317.60" y1="344.76" x2="320.10" y2="344.76" stroke="#000" stroke-width="1.9"/>
<text x="312.80" y="347.78" font-size="8.4" text-anchor="end" font-weight="bold" >0.9</text>
<line x1="317.60" y1="331.70" x2="320.10" y2="331.70" stroke="#000" stroke-width="1.9"/>
<text x="312.80" y="334.72" font-size="8.4" text-anchor="end" font-weight="bold" >1.0</text>
<line x1="369.45" y1="462.30" x2="369.45" y2="464.80" stroke="#000" stroke-width="1.3"/>
<line x1="418.80" y1="462.30" x2="418.80" y2="464.80" stroke="#000" stroke-width="1.3"/>
<line x1="468.15" y1="462.30" x2="468.15" y2="464.80" stroke="#000" stroke-width="1.3"/>
<line x1="517.50" y1="462.30" x2="517.50" y2="464.80" stroke="#000" stroke-width="1.3"/>
<text x="344.08" y="477.20" font-size="12" text-anchor="middle" font-weight="bold" >NLN</text>
<text x="393.43" y="477.20" font-size="12" text-anchor="middle" font-weight="bold" >RLN</text>
<text x="442.78" y="477.20" font-size="12" text-anchor="middle" font-weight="bold" >FL</text>
<text x="492.12" y="477.20" font-size="12" text-anchor="middle" font-weight="bold" >PBMC</text>
<text transform="translate(297.00,440.70) rotate(-90)" font-size="12.3" font-weight="bold">Polyfunctional 4</text>
<path d="M344.78 451.50L348.33 458.50L341.23 458.50Z"/>
<path d="M344.78 455.00L348.33 462.00L341.23 462.00Z"/>
<path d="M344.78 459.00L348.33 466.00L341.23 466.00Z"/>
<rect x="340.18" y="456.90" width="9.20" height="2.00"/>
<path d="M394.12 436.00L397.68 443.00L390.57 443.00Z"/>
<path d="M394.12 440.00L397.68 447.00L390.57 447.00Z"/>
<path d="M394.12 444.00L397.68 451.00L390.57 451.00Z"/>
<path d="M394.12 447.50L397.68 454.50L390.57 454.50Z"/>
<path d="M394.12 459.00L397.68 466.00L390.57 466.00Z"/>
<rect x="389.52" y="450.00" width="9.20" height="2.00"/>
<path d="M443.48 437.80L447.03 444.80L439.93 444.80Z"/>
<path d="M443.48 449.00L447.03 456.00L439.93 456.00Z"/>
<path d="M443.48 452.00L447.03 459.00L439.93 459.00Z"/>
<path d="M443.48 455.00L447.03 462.00L439.93 462.00Z"/>
<path d="M443.48 459.00L447.03 466.00L439.93 466.00Z"/>
<rect x="438.88" y="455.40" width="9.20" height="2.00"/>
<path d="M492.82 343.80L496.38 350.80L489.27 350.80Z"/>
<path d="M492.82 353.10L496.38 360.10L489.27 360.10Z"/>
<path d="M492.82 393.50L496.38 400.50L489.27 400.50Z"/>
<path d="M492.82 404.10L496.38 411.10L489.27 411.10Z"/>
<path d="M492.82 413.50L496.38 420.50L489.27 420.50Z"/>
<path d="M492.82 417.30L496.38 424.30L489.27 424.30Z"/>
<path d="M492.82 421.50L496.38 428.50L489.27 428.50Z"/>
<path d="M492.82 425.80L496.38 432.80L489.27 432.80Z"/>
<path d="M492.82 430.00L496.38 437.00L489.27 437.00Z"/>
<path d="M492.82 434.50L496.38 441.50L489.27 441.50Z"/>
<path d="M492.82 450.20L496.38 457.20L489.27 457.20Z"/>
<path d="M492.82 452.90L496.38 459.90L489.27 459.90Z"/>
<rect x="488.22" y="417.80" width="9.20" height="2.00"/>
<path d="M485.40 337.80L485.40 334.50M485.40 337.80L488.54 336.78M485.40 337.80L487.34 340.47M485.40 337.80L483.46 340.47M485.40 337.80L482.26 336.78" stroke="#000" stroke-width="1.7" stroke-linecap="butt" fill="none"/>
<path d="M492.50 337.80L492.50 334.50M492.50 337.80L495.64 336.78M492.50 337.80L494.44 340.47M492.50 337.80L490.56 340.47M492.50 337.80L489.36 336.78" stroke="#000" stroke-width="1.7" stroke-linecap="butt" fill="none"/>
<path d="M499.60 337.80L499.60 334.50M499.60 337.80L502.74 336.78M499.60 337.80L501.54 340.47M499.60 337.80L497.66 340.47M499.60 337.80L496.46 336.78" stroke="#000" stroke-width="1.7" stroke-linecap="butt" fill="none"/>
</svg></body></html>
